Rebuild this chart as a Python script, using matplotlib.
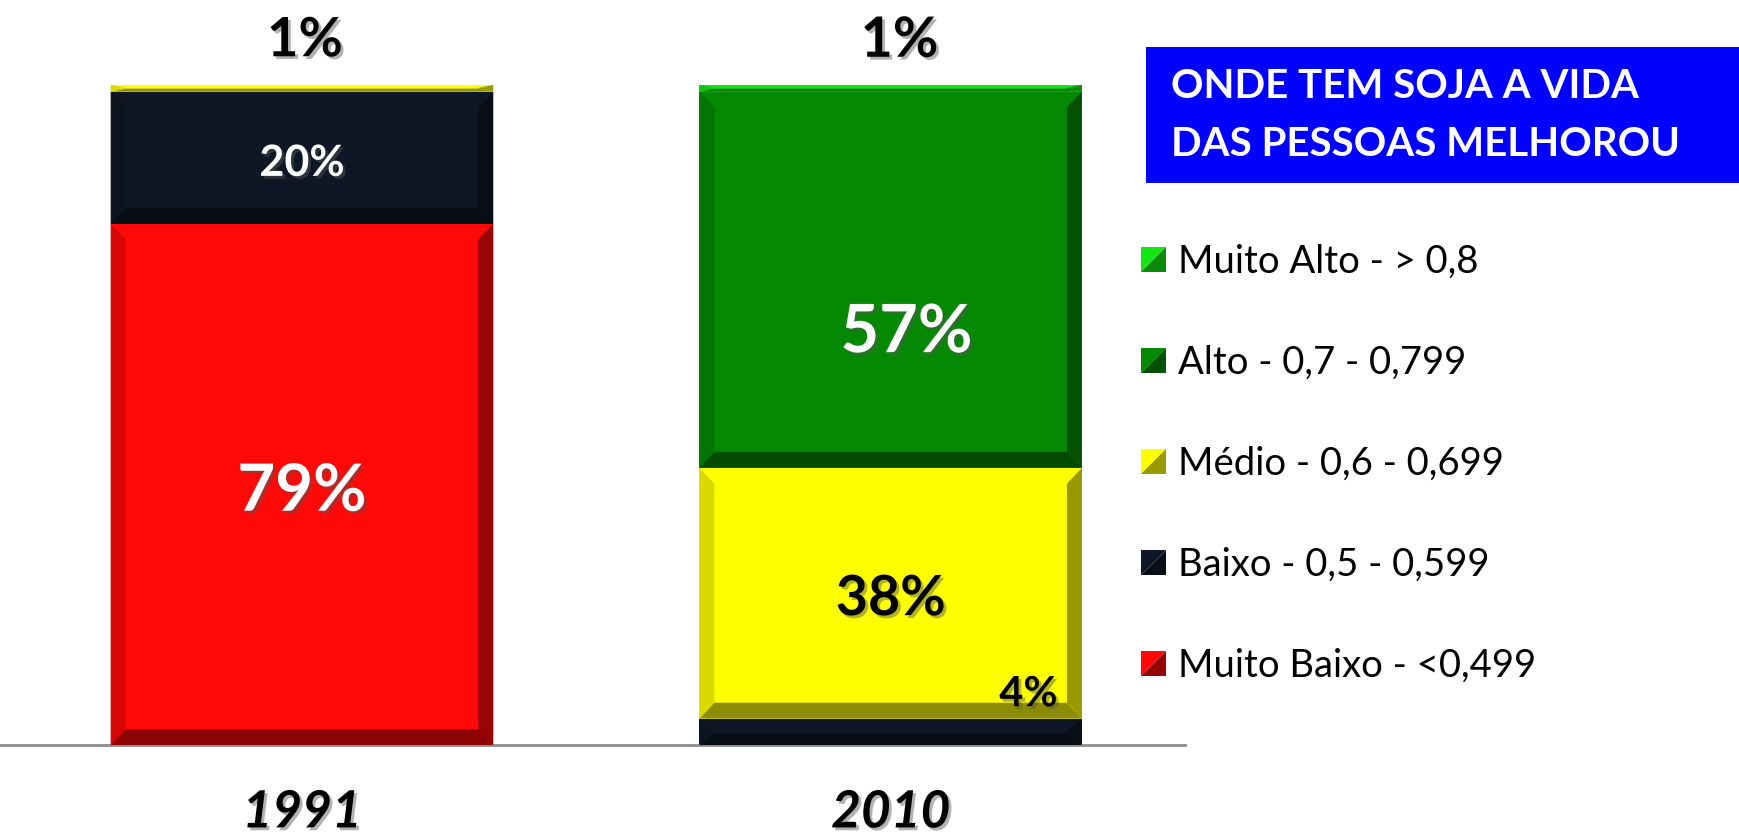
import numpy as np
import matplotlib.pyplot as plt
import matplotlib.patheffects as pe
from matplotlib.patches import Polygon, Patch, Rectangle
from matplotlib.legend_handler import HandlerBase
from matplotlib.colors import to_rgb

plt.rcParams['font.family'] = ['Lato', 'DejaVu Sans']

# Data
years = ['1991', '2010']
categories = ['Muito Baixo - <0,499', 'Baixo - 0,5 - 0,599', 'Médio - 0,6 - 0,699',
              'Alto - 0,7 - 0,799', 'Muito Alto - > 0,8']
muito_baixo = [79, 0]
baixo = [20, 4]
medio = [1, 38]
alto = [0, 57]
muito_alto = [0, 1]
series = [muito_baixo, baixo, medio, alto, muito_alto]
colors = ['#fe0808', '#0f1726', '#ffff00', '#058905', '#14e614']

# label styles per (year, category): colour, size, y offset, x offset
label_style = {
    (0, 0): ('white', 47, -1.2, 0),
    (0, 1): ('white', 31, -0.8, 0),
    (0, 2): ('black', 39, None, 0.005),     # above the bar
    (1, 1): ('black', 30, 'above', 0.234),
    (1, 2): ('black', 40, -0.9, 0),
    (1, 3): ('white', 48, -8.1, 0.027),
    (1, 4): ('black', 40, None, 0.015),
}

shadow = [pe.SimplePatchShadow(offset=(2, -2), shadow_rgbFace='#555555', alpha=0.45), pe.Normal()]


def shade(c, f):
    c = np.array(to_rgb(c))
    if f >= 1:
        return tuple(c + (1 - c) * (f - 1))
    return tuple(c * f)


def add_bevel(ax, rect, color):
    x0, y0 = rect.get_x(), rect.get_y()
    w, h = rect.get_width(), rect.get_height()
    dx = 0.0255
    dy = min(2.4, h * 0.45)
    bot = [(x0, y0), (x0 + w, y0), (x0 + w - dx, y0 + dy), (x0 + dx, y0 + dy)]
    left = [(x0, y0), (x0, y0 + h), (x0 + dx, y0 + h - dy), (x0 + dx, y0 + dy)]
    right = [(x0 + w, y0), (x0 + w, y0 + h), (x0 + w - dx, y0 + h - dy), (x0 + w - dx, y0 + dy)]
    for pts, f in [(bot, 0.55), (left, 0.85), (right, 0.6)]:
        ax.add_patch(Polygon(pts, closed=True, facecolor=shade(color, f), edgecolor='none', zorder=3))


class HandlerBevel(HandlerBase):
    def create_artists(self, legend, orig_handle, xdescent, ydescent, width, height, fontsize, trans):
        c = orig_handle.get_facecolor()
        s = min(width, height)
        x0, y0 = -xdescent, -ydescent + (height - s) / 2
        light = Polygon([(x0, y0), (x0, y0 + s), (x0 + s, y0 + s)], closed=True,
                        facecolor=shade(c, 1.0), edgecolor='none', transform=trans)
        dark = Polygon([(x0, y0), (x0 + s, y0), (x0 + s, y0 + s)], closed=True,
                       facecolor=shade(c, 0.6), edgecolor='none', transform=trans)
        return [light, dark]


fig = plt.figure(figsize=(17.4, 8.34), dpi=100)
ax = fig.add_axes([0, 0.1067, 0.681, 0.7914])

x = np.arange(len(years))
bar_w = 0.65
bottoms = np.zeros(len(years))
for ci, (vals, col) in enumerate(zip(series, colors)):
    bars = ax.bar(x, vals, bottom=bottoms, width=bar_w, color=col, zorder=2)
    for yi, rect in enumerate(bars):
        if vals[yi] > 0:
            add_bevel(ax, rect, col)
        st = label_style.get((yi, ci))
        if st is None:
            continue
        tc, size, off, xo = st
        cx = rect.get_x() + rect.get_width() / 2 + xo
        if off is None:
            ty = 106.7
        elif off == 'above':
            ty = rect.get_y() + rect.get_height() + 3.7
        else:
            ty = rect.get_y() + rect.get_height() / 2 + off
        ax.text(cx, ty, f'{vals[yi]}%', color=tc, fontsize=size, fontweight='bold',
                ha='center', va='center', zorder=5, clip_on=False, path_effects=shadow)
    bottoms += np.array(vals)

ax.set_xlim(-0.513, 1.5)
ax.set_ylim(0, 100)
for s in ['top', 'right', 'left']:
    ax.spines[s].set_visible(False)
ax.spines['bottom'].set_color('#8c8c8c')
ax.spines['bottom'].set_linewidth(2)
ax.set_yticks([])
ax.set_xticks(x, years)
ax.tick_params(axis='x', length=0, pad=32)
for lab in ax.get_xticklabels():
    lab.set_fontsize(37)
    lab.set_fontweight('bold')
    lab.set_fontstyle('italic')
    lab.set_path_effects(shadow)

# Title box
fig.patches.append(Rectangle((0.6586, 0.7806), 0.3414, 0.163, transform=fig.transFigure,
                             facecolor='#0000ff', edgecolor='none'))
fig.text(0.673, 0.8957, 'ONDE TEM SOJA A VIDA', color='white', fontsize=29,
         fontweight='bold', ha='left', va='center')
fig.text(0.673, 0.8273, 'DAS PESSOAS MELHOROU', color='white', fontsize=29,
         fontweight='bold', ha='left', va='center')

# Legend
handles = [Patch(facecolor=c) for c in colors][::-1]
fig.legend(handles, categories[::-1], handler_map={Patch: HandlerBevel()},
           loc='upper left', bbox_to_anchor=(0.656, 0.7074), frameon=False,
           fontsize=27.5, handlelength=0.65, handleheight=0.65, handletextpad=0.31,
           labelspacing=1.7, borderpad=0, borderaxespad=0)

fig.savefig('out.png', dpi=100)
